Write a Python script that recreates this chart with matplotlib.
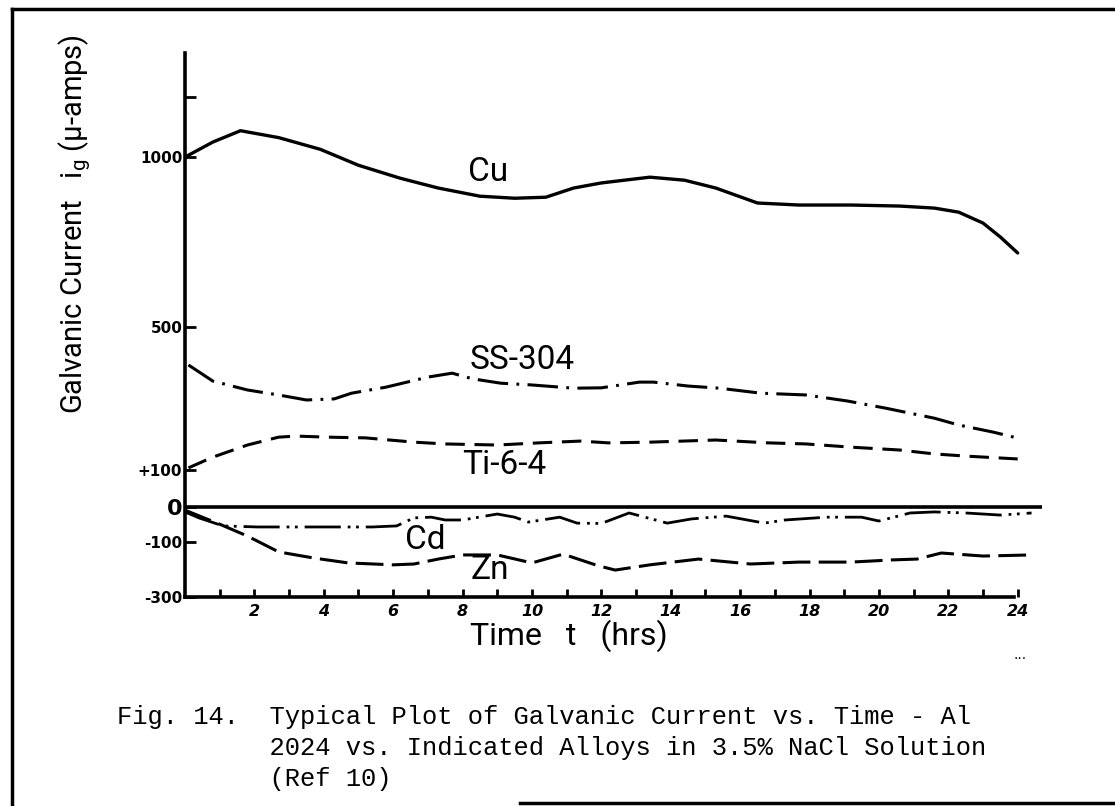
import numpy as np
import matplotlib
matplotlib.use('Agg')
import matplotlib.pyplot as plt

plt.rcParams['font.family'] = ['DejaVu Sans']
plt.rcParams['lines.scale_dashes'] = False
plt.rcParams['mathtext.fontset'] = 'custom'
plt.rcParams['mathtext.rm'] = 'Roboto'
hand = ['Roboto', 'DejaVu Sans']

# time axis (hours) and galvanic current (micro-amps)
cu_t = [0, 0.8, 1.6, 2.7, 3.9, 5.0, 6.2, 7.3, 8.5, 9.5, 10.4, 11.2, 12.0, 13.4, 14.4,
        15.3, 16.5, 17.7, 19.2, 20.6, 21.6, 22.3, 23.0, 23.5, 24.0]
cu_i = [1000, 1050, 1088, 1065, 1026, 976, 938, 909, 885, 879, 882, 909, 924, 941, 932,
        909, 865, 859, 859, 856, 850, 838, 806, 765, 718]

ss_t = [0.1, 0.8, 1.8, 2.7, 3.5, 4.3, 4.8, 5.8, 7.0, 7.7, 8.3, 9.1, 10.0, 11.2, 12.0,
        13.1, 13.5, 14.5, 15.4, 16.6, 17.9, 19.1, 20.2, 21.6, 22.3, 23.3, 24.1]
ss_i = [394, 349, 324, 310, 296, 299, 315, 332, 360, 371, 355, 343, 338, 329, 330,
        346, 346, 335, 329, 315, 310, 293, 273, 245, 226, 206, 187]

ti_t = [0.1, 0.8, 1.8, 2.7, 3.2, 4.1, 5.2, 6.6, 7.5, 9.0, 10.2, 11.4, 12.2, 13.4, 15.3,
        16.8, 17.9, 19.2, 20.6, 21.6, 22.5, 24.0]
ti_i = [106, 136, 170, 192, 195, 192, 190, 178, 173, 170, 176, 181, 176, 178, 184,
        176, 173, 164, 156, 145, 139, 131]

cd_t = [0, 0.4, 1.1, 2.1, 3.2, 4.5, 5.4, 6.1, 6.6, 7.1, 7.5, 8.0, 9.0, 9.5, 9.9, 10.8,
        11.3, 12.0, 12.8, 13.9, 14.6, 15.6, 16.7, 17.3, 18.5, 19.5, 20.0, 20.9, 21.6,
        22.5, 23.5, 24.4]
cd_i = [-14, -31, -54, -57, -57, -57, -57, -54, -31, -29, -37, -37, -20, -29, -43, -29,
        -46, -47, -17, -46, -34, -26, -46, -37, -29, -29, -40, -17, -14, -17, -23, -17]

zn_t = [0, 1.0, 1.8, 2.7, 3.7, 4.7, 6.0, 6.6, 7.3, 8.0, 9.0, 10.0, 10.9, 11.9, 12.4,
        13.4, 14.8, 16.3, 17.7, 19.2, 20.4, 21.1, 21.8, 23.0, 24.4]
zn_i = [-9, -49, -83, -136, -158, -176, -183, -180, -162, -147, -147, -176, -144, -186,
        -202, -183, -162, -180, -173, -173, -165, -162, -140, -151, -147]

y_ticks = [-300, -100, 0, 100, 500, 1000, 1200]
y_labels = ['-300', '-100', '0', '+100', '500', '1000', '']
x_ticks = list(range(2, 25, 2))

# hand drawn axis is not linear, piecewise scale from the tick spacing
sv = [-400, -300, -100, 0, 100, 500, 1000, 1200, 1400]
sp = [-625, -597, -542, -507, -470, -327, -157, -97, -37]


def fwd(v):
    return np.interp(v, sv, sp)


def inv(p):
    return np.interp(p, sp, sv)


fig = plt.figure(figsize=(11.15, 8.06), dpi=100)
ax = fig.add_axes([0.1659, 0.2593, 0.7686, 0.6749])
ax.set_yscale('function', functions=(fwd, inv))
ax.set_xlim(0, 24.7)
ax.set_ylim(-300, 1347)

ax.plot(cu_t, cu_i, color='black', lw=2.4, solid_capstyle='round')
ax.plot(ss_t, ss_i, color='black', lw=2.2, linestyle=(0, (22, 6, 2, 6)))
ax.plot(ti_t, ti_i, color='black', lw=2.2, linestyle=(0, (14, 7)))
ax.plot(cd_t, cd_i, color='black', lw=2.0, linestyle=(0, (26, 5, 2, 4, 2, 5)))
ax.plot(zn_t, zn_i, color='black', lw=2.2, linestyle=(0, (20, 6)))
ax.axhline(0, color='black', lw=2.6)

for s in ['top', 'right']:
    ax.spines[s].set_visible(False)
ax.spines['left'].set_linewidth(2.6)
ax.spines['bottom'].set_linewidth(2.6)
ax.spines['bottom'].set_bounds(0, 23.9)

ax.set_yticks(y_ticks)
ax.set_yticklabels(y_labels)
ax.yaxis.set_minor_locator(plt.NullLocator())
ax.tick_params(axis='y', direction='in', length=8, width=2, labelsize=11, pad=2)
for lab in ax.get_yticklabels():
    lab.set_fontweight('bold')
ax.get_yticklabels()[2].set_fontsize(16)

ax.set_xticks(x_ticks)
ax.set_xticks(range(1, 25), minor=True)
ax.tick_params(axis='x', which='both', direction='in', length=6, width=2,
               labelsize=11.5, pad=5)
for lab in ax.get_xticklabels():
    lab.set_fontweight('bold')
    lab.set_fontstyle('italic')

ax.text(8.73, 956, 'Cu', family=hand, fontsize=24, ha='center', va='center')
ax.text(9.71, 408, 'SS-304', family=hand, fontsize=24, ha='center', va='center')
ax.text(9.19, 114, 'Ti-6-4', family=hand, fontsize=24, ha='center', va='center')
ax.text(6.92, -94, 'Cd', family=hand, fontsize=24, ha='center', va='center')
ax.text(8.79, -202, 'Zn', family=hand, fontsize=24, ha='center', va='center')

fig.text(569 / 1115, 1 - 636 / 806, 'Time   t   (hrs)', family=hand, fontsize=23,
         ha='center', va='center')
fig.text(75 / 1115, 1 - 224 / 806,
         r'Galvanic Current   i$_{\mathrm{g}}$ (μ-amps)',
         family=hand, fontsize=21, rotation=90, ha='center', va='center')
fig.text(1020 / 1115, 1 - 655 / 806, '...', fontsize=10, ha='center', va='center')

cap = ['Fig. 14.  Typical Plot of Galvanic Current vs. Time - Al',
       '          2024 vs. Indicated Alloys in 3.5% NaCl Solution',
       '          (Ref 10)']
for k, line in enumerate(cap):
    fig.text(117 / 1115, 1 - (717 + 31 * k) / 806, line, family='Liberation Mono',
             fontsize=18.4, ha='left', va='center')

# scanned page frame
fig.add_artist(plt.Line2D([12 / 1115, 12 / 1115], [0, 1 - 9 / 806], color='black', lw=2.5))
fig.add_artist(plt.Line2D([12 / 1115, 1], [1 - 9 / 806, 1 - 9 / 806], color='black', lw=2.5))
fig.add_artist(plt.Line2D([520 / 1115, 1], [1 - 803 / 806, 1 - 803 / 806], color='black', lw=2.5))

fig.savefig('out.png', dpi=100)
